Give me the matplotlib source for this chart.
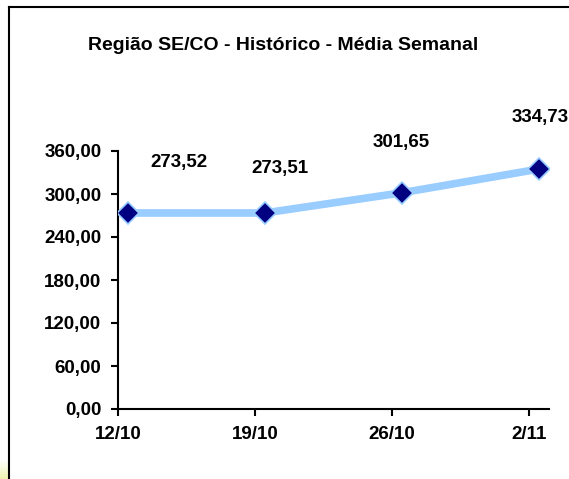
import matplotlib
matplotlib.use('Agg')
import matplotlib.pyplot as plt
from matplotlib.lines import Line2D
import numpy as np

plt.rcParams['font.family'] = ['Liberation Sans', 'DejaVu Sans']
plt.rcParams['font.weight'] = 'bold'

weeks = ['12/10', '19/10', '26/10', '2/11']
media = [273.52, 273.51, 301.65, 334.73]
labels = ['273,52', '273,51', '301,65', '334,73']
# label offsets (points) - moved by hand in the original
offs = [(37, 36), (11, 32), (0, 36), (1, 37)]

W, H = 569, 479
fig = plt.figure(figsize=(W / 100, H / 100), dpi=100)
ax = fig.add_axes([118 / W, 1 - 409 / H, (549 - 118) / W, (409 - 151) / H])

xs = np.arange(len(weeks)) + 0.07
ax.plot(xs, media, color='#99CCFF', lw=5.5, marker='D', ms=11,
        mfc='#000080', mec='#99CCFF', mew=1.2, zorder=3)
for x, y, t, o in zip(xs, media, labels, offs):
    ax.annotate(t, (x, y), xytext=o, textcoords='offset points',
                ha='center', va='center', fontsize=13.5, fontweight='bold',
                annotation_clip=False)

ax.set_xlim(0, (549 - 118) / 137)
ax.set_ylim(0, 360)
ax.set_xticks(range(len(weeks)))
ax.set_xticklabels(weeks)
ax.set_yticks(np.arange(0, 361, 60))
ax.set_yticklabels(['%d,00' % v for v in range(0, 361, 60)])
ax.tick_params(labelsize=13.5, length=5, width=1.5)
ax.tick_params(axis='x', pad=7)
ax.tick_params(axis='y', pad=7)
for s in ['top', 'right']:
    ax.spines[s].set_visible(False)
for s in ['left', 'bottom']:
    ax.spines[s].set_linewidth(1.5)

fig.text(283 / W, 1 - 45 / H, 'Região SE/CO - Histórico - Média Semanal',
         ha='center', va='center', fontsize=14, fontweight='bold')

# outer frame (only top and left visible)
fig.add_artist(Line2D([9 / W, 9 / W], [1 - 7 / H, 0], color='black', lw=1.5,
                      transform=fig.transFigure))
fig.add_artist(Line2D([9 / W, 1], [1 - 7 / H, 1 - 7 / H], color='black', lw=1.5,
                      transform=fig.transFigure))

# faint yellow glow bottom-left
g = np.linspace(0, 1, 20)[:, None] * np.ones((1, 8))
gax = fig.add_axes([0, 0, 8 / W, 20 / H])
gax.imshow(g, cmap=matplotlib.colors.LinearSegmentedColormap.from_list('y', ['white', '#EEF4B0']),
           aspect='auto')
gax.axis('off')

fig.savefig('out.png', dpi=100)
